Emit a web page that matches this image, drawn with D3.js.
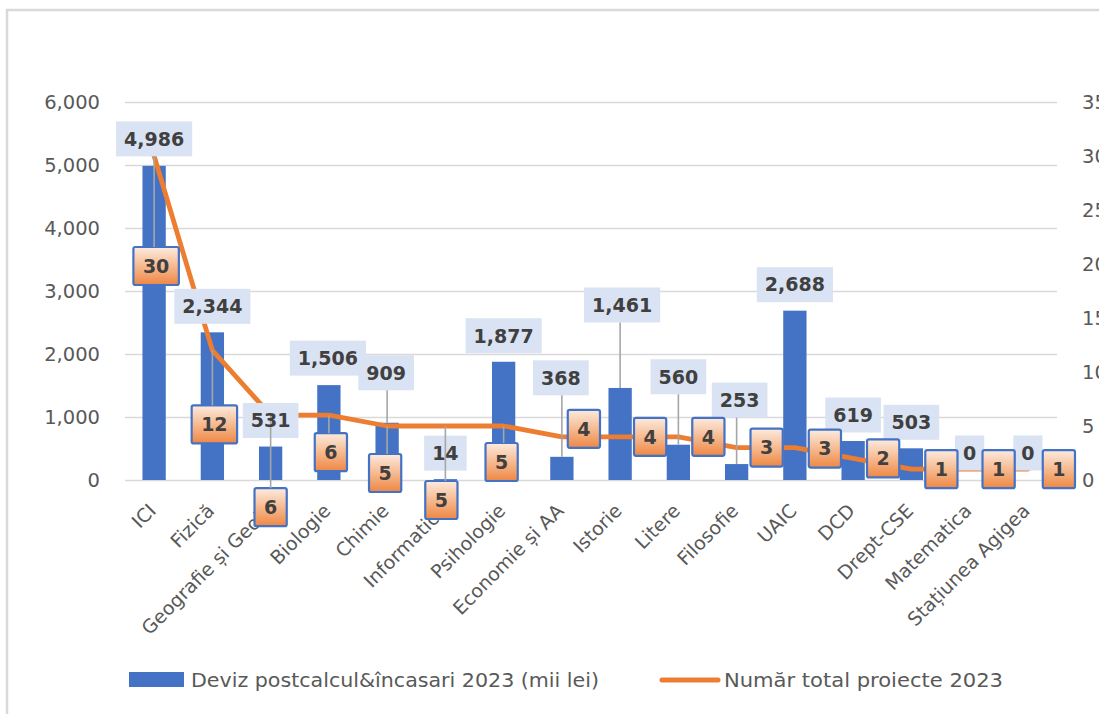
<!DOCTYPE html>
<html>
<head>
<meta charset="utf-8">
<script src="https://cdn.jsdelivr.net/npm/d3@7"></script>
<style>
  html, body { margin: 0; padding: 0; background: #fff; }
  svg { display: block; }
</style>
</head>
<body>
<svg id="chart" width="1099" height="714"></svg>
<script>
// ---------- data ----------
const categories = ["ICI", "Fizică", "Geografie și Geolo", "Biologie", "Chimie", "Informatica",
  "Psihologie", "Economie și AA", "Istorie", "Litere", "Filosofie", "UAIC", "DCD",
  "Drept-CSE", "Matematica", "Stațiunea  Agigea"];
const budget = [4986, 2344, 531, 1506, 909, 14, 1877, 368, 1461, 560, 253, 2688, 619, 503, 0, 0];
const projects = [30, 12, 6, 6, 5, 5, 5, 4, 4, 4, 3, 3, 2, 1, 1, 1];
const leftTicks = [0, 1000, 2000, 3000, 4000, 5000, 6000];
const rightTicks = [0, 5, 10, 15, 20, 25, 30, 35];
const seriesNames = ["Deviz postcalcul&încasari 2023 (mii lei)", "Număr total proiecte 2023"];

// label placement (offset of label centre from its data point, px)
const barLabelOffsets = [[0,-27],[0,-26],[0,-26],[-1,-27],[-1,-50],[0,-26],[0,-26],[-1,-79],
  [2,-83],[0,-68],[3,-64],[0,-26],[0,-26],[0,-26],[0,-27],[0,-27]];
const lineLabelOffsets = [[2,110],[2,74],[0,92],[2,37],[-2,47],[-4,74],[-2,36],[22,-8],
  [30,0],[30,0],[30,0],[30,1],[30,0],[30,0],[29,0],[31,0]];

// ---------- layout ----------
const svg = d3.select("#chart");
const plot = { left: 125, right: 1057, top: 102, bottom: 480 };
const C = { bar: "#4472C4", line: "#ED7D31", grid: "#D9D9D9", axis: "#595959",
  label: "#404040", labelBox: "#DAE3F3", leader: "#A6A6A6" };

// gradient for line labels
const defs = svg.append("defs");
const grad = defs.append("linearGradient").attr("id", "og").attr("x1", 0).attr("y1", 0).attr("x2", 0).attr("y2", 1);
grad.append("stop").attr("offset", "0%").attr("stop-color", "#FCEBDF");
grad.append("stop").attr("offset", "45%").attr("stop-color", "#F7BF98");
grad.append("stop").attr("offset", "100%").attr("stop-color", "#EE8744");

// chart frame
svg.append("path").attr("d", "M7,714 V10 H1099").attr("fill", "none")
  .attr("stroke", "#D9D9D9").attr("stroke-width", 2.5);

const x = d3.scaleBand().domain(categories).range([plot.left, plot.right])
  .paddingInner(0.6).paddingOuter(0.3);
const yL = d3.scaleLinear().domain([0, 6000]).range([plot.bottom, plot.top]);
const yR = d3.scaleLinear().domain([0, 35]).range([plot.bottom, plot.top]);
const cx = c => x(c) + x.bandwidth() / 2;

// gridlines
const grid = svg.append("g").attr("transform", `translate(${plot.left},0)`)
  .call(d3.axisLeft(yL).tickValues(leftTicks).tickSize(-(plot.right - plot.left)).tickFormat(""));
grid.select(".domain").remove();
grid.selectAll("line").attr("stroke", C.grid).attr("stroke-width", 1.5);

// left axis
const ax = svg.append("g").attr("transform", `translate(${plot.left},0)`)
  .call(d3.axisLeft(yL).tickValues(leftTicks).tickSize(0).tickPadding(25).tickFormat(d3.format(",")));
ax.select(".domain").remove();
ax.selectAll("text").attr("fill", C.axis).style("font-family", "DejaVu Sans").style("font-size", "19.5px");

// right axis
const ar = svg.append("g").attr("transform", `translate(${plot.right},0)`)
  .call(d3.axisRight(yR).tickValues(rightTicks).tickSize(0).tickPadding(25));
ar.select(".domain").remove();
ar.selectAll("text").attr("fill", C.axis).style("font-family", "DejaVu Sans").style("font-size", "19.5px");

// bottom axis (category labels)
const ab = svg.append("g").attr("transform", `translate(0,${plot.bottom})`)
  .call(d3.axisBottom(x).tickSize(0));
ab.select(".domain").remove();
ab.selectAll(".tick").attr("transform", d => `translate(${cx(d)},0)`);
ab.selectAll("text")
  .attr("fill", C.axis).style("font-family", "DejaVu Sans").style("font-size", "19px")
  .attr("text-anchor", "end").attr("x", 3).attr("y", 32).attr("dy", 0)
  .attr("transform", "rotate(-45,3,32)");

// bars
svg.append("g").selectAll("rect").data(budget).join("rect")
  .attr("x", (d, i) => x(categories[i]))
  .attr("width", x.bandwidth())
  .attr("y", d => yL(d))
  .attr("height", d => yL(0) - yL(d))
  .attr("fill", C.bar);

// line
const line = d3.line().x((d, i) => cx(categories[i])).y(d => yR(d)).curve(d3.curveLinear);
svg.append("path").datum(projects).attr("d", line).attr("fill", "none")
  .attr("stroke", C.line).attr("stroke-width", 4.8).attr("stroke-linejoin", "round").attr("stroke-linecap", "round");

// ---------- labels ----------
const fmt = d3.format(",");
const labelFont = "DejaVu Sans";
function measure(txt) {
  const t = svg.append("text").style("font-family", labelFont).style("font-size", "19px")
    .style("font-weight", "bold").text(txt);
  const w = t.node().getComputedTextLength();
  t.remove();
  return w;
}
const labels = [];
budget.forEach((v, i) => {
  const ax0 = cx(categories[i]), ay0 = yL(v);
  const txt = fmt(v), w = measure(txt) + 16, h = 35;
  labels.push({ type: "bar", txt, ax: ax0, ay: ay0, cx: ax0 + barLabelOffsets[i][0], cy: ay0 + barLabelOffsets[i][1], w, h });
});
projects.forEach((v, i) => {
  const ax0 = cx(categories[i]), ay0 = yR(v);
  const txt = String(v), w = measure(txt) + 19, h = 38;
  labels.push({ type: "line", txt, ax: ax0, ay: ay0, cx: ax0 + lineLabelOffsets[i][0], cy: ay0 + lineLabelOffsets[i][1], w, h });
});

const boxG = svg.append("g"), leadG = svg.append("g"), textG = svg.append("g");
labels.forEach(L => {
  const r = boxG.append("rect").attr("x", L.cx - L.w / 2).attr("y", L.cy - L.h / 2)
    .attr("width", L.w).attr("height", L.h);
  if (L.type === "bar") r.attr("fill", C.labelBox);
  else r.attr("fill", "url(#og)").attr("stroke", C.bar).attr("stroke-width", 2.2).attr("rx", 2);

  // leader line from data point to nearest edge of box
  const x0 = L.cx - L.w / 2, x1 = L.cx + L.w / 2, y0 = L.cy - L.h / 2, y1 = L.cy + L.h / 2;
  const px = Math.max(x0, Math.min(x1, L.ax)), py = Math.max(y0, Math.min(y1, L.ay));
  const dist = Math.hypot(px - L.ax, py - L.ay);
  if (dist > 15.5) {
    leadG.append("line").attr("x1", L.ax).attr("y1", L.ay).attr("x2", px).attr("y2", py)
      .attr("stroke", C.leader).attr("stroke-width", 1.6);
  }
  textG.append("text").attr("x", L.cx).attr("y", L.cy).attr("dy", "0.36em")
    .attr("text-anchor", "middle").attr("fill", C.label)
    .style("font-family", labelFont).style("font-size", "19px").style("font-weight", "bold")
    .text(L.txt);
});

// ---------- legend ----------
const lg = svg.append("g");
lg.append("rect").attr("x", 129).attr("y", 672).attr("width", 55).attr("height", 15).attr("fill", C.bar);
lg.append("text").attr("x", 191).attr("y", 687).text(seriesNames[0])
  .attr("textLength", 408).attr("lengthAdjust", "spacingAndGlyphs");
lg.append("line").attr("x1", 662).attr("x2", 718).attr("y1", 680).attr("y2", 680)
  .attr("stroke", C.line).attr("stroke-width", 5).attr("stroke-linecap", "round");
lg.append("text").attr("x", 724).attr("y", 687).text(seriesNames[1])
  .attr("textLength", 279).attr("lengthAdjust", "spacingAndGlyphs");
lg.selectAll("text").attr("fill", C.axis)
  .style("font-family", "'DejaVu Sans Condensed', 'DejaVu Sans'").style("font-size", "20px");
</script>
</body>
</html>
